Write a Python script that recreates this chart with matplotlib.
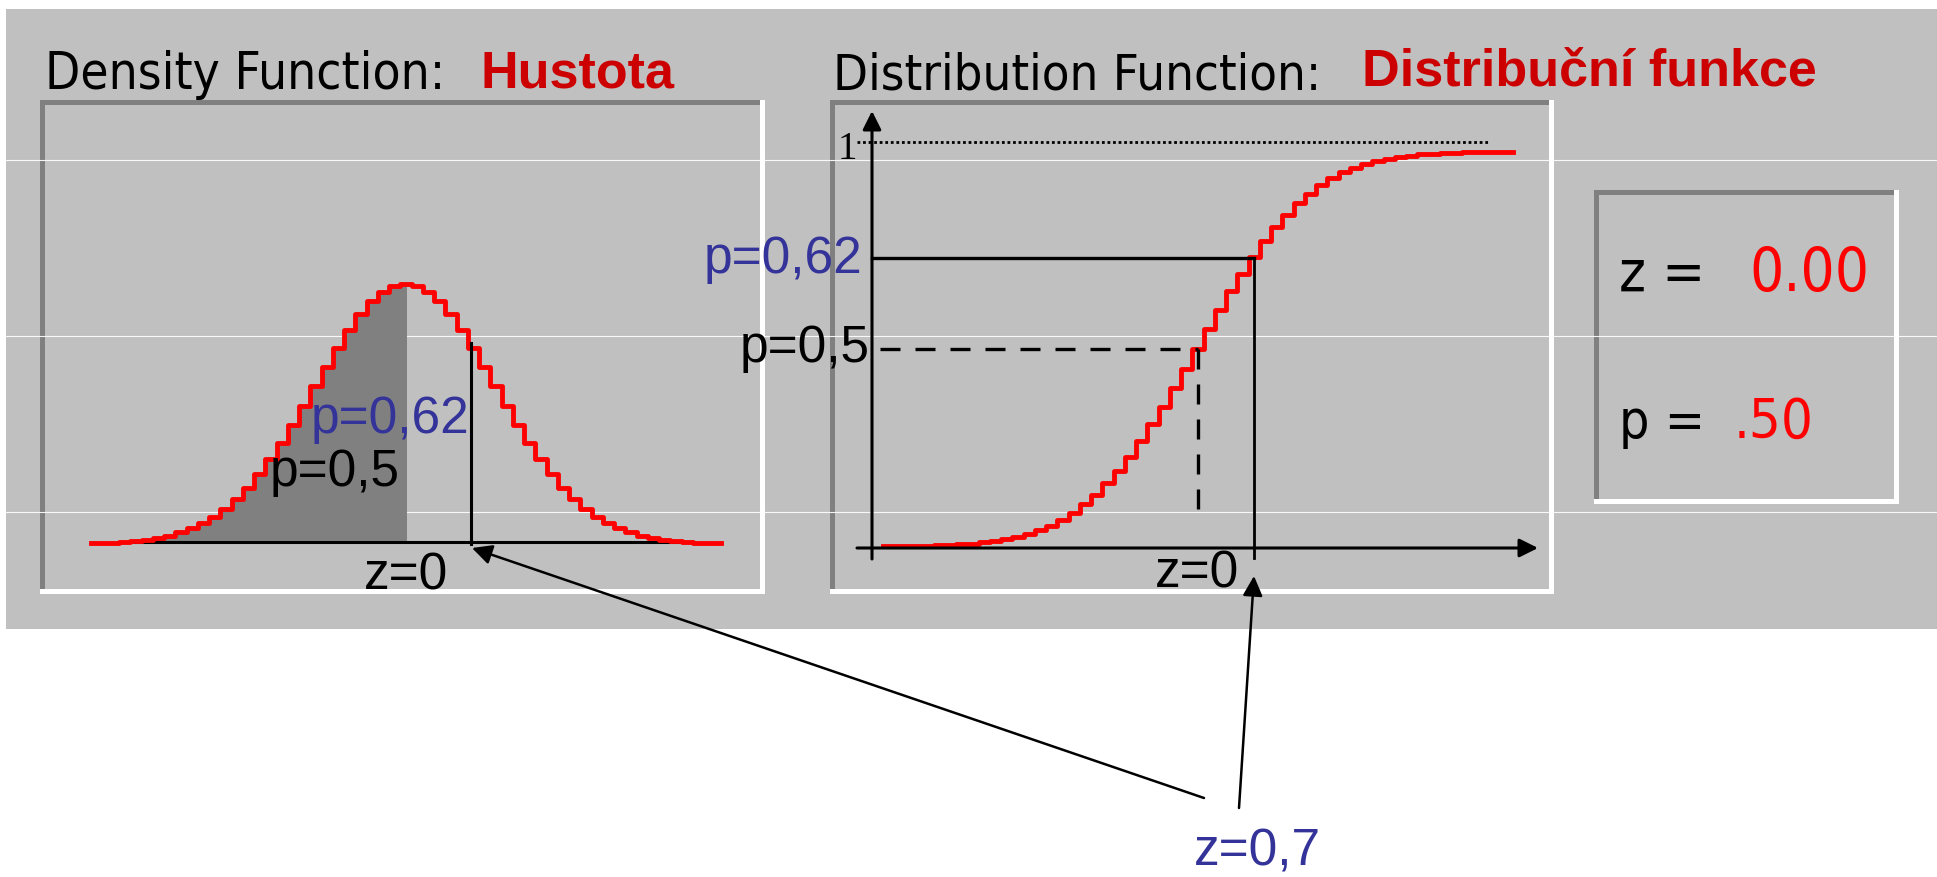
import numpy as np
import matplotlib.pyplot as plt
from matplotlib.patches import Rectangle

# values
z_grid = [-3.5, -3.375, -3.25, -3.125, -3.0, -2.875, -2.75, -2.625, -2.5, -2.375,
          -2.25, -2.125, -2.0, -1.875, -1.75, -1.625, -1.5, -1.375, -1.25, -1.125,
          -1.0, -0.875, -0.75, -0.625, -0.5, -0.375, -0.25, -0.125, 0.0,
          0.125, 0.25, 0.375, 0.5, 0.625, 0.75, 0.875, 1.0, 1.125, 1.25,
          1.375, 1.5, 1.625, 1.75, 1.875, 2.0, 2.125, 2.25, 2.375, 2.5,
          2.625, 2.75, 2.875, 3.0, 3.125, 3.25, 3.375, 3.5]
density = [0.001, 0.001, 0.002, 0.003, 0.004, 0.006, 0.009, 0.013, 0.018, 0.024,
           0.032, 0.042, 0.054, 0.069, 0.086, 0.107, 0.130, 0.155, 0.183, 0.212,
           0.242, 0.272, 0.301, 0.328, 0.352, 0.372, 0.387, 0.396, 0.399,
           0.396, 0.387, 0.372, 0.352, 0.328, 0.301, 0.272, 0.242, 0.212, 0.183,
           0.155, 0.130, 0.107, 0.086, 0.069, 0.054, 0.042, 0.032, 0.024, 0.018,
           0.013, 0.009, 0.006, 0.004, 0.003, 0.002, 0.001, 0.001]
cdf = [0.000, 0.000, 0.001, 0.001, 0.001, 0.002, 0.003, 0.004, 0.006, 0.009,
       0.012, 0.017, 0.023, 0.030, 0.040, 0.052, 0.067, 0.085, 0.106, 0.130,
       0.159, 0.191, 0.227, 0.266, 0.309, 0.354, 0.401, 0.450, 0.500,
       0.550, 0.599, 0.646, 0.691, 0.734, 0.773, 0.809, 0.841, 0.870, 0.894,
       0.915, 0.933, 0.948, 0.960, 0.970, 0.977, 0.983, 0.988, 0.991, 0.994,
       0.996, 0.997, 0.998, 0.999, 0.999, 0.999, 1.000, 1.000]

pdf_mark_z = 0.72      # vertical line in the density panel
pdf_mark_h = 0.308
cdf_mark_z = 0.62      # solid lines in the distribution panel
cdf_mark_p = 0.73
half_p = 0.5

W, H = 1937, 877
GRAY = '#C0C0C0'
DARK = '#808080'
BLUE = '#333399'
ARIAL = ['Liberation Sans', 'DejaVu Sans']

fig = plt.figure(figsize=(W / 100, H / 100), dpi=100)

# background axes in pixel units (y down)
bg = fig.add_axes([0, 0, 1, 1])
bg.set_xlim(0, W)
bg.set_ylim(H, 0)
bg.axis('off')
bg.add_patch(Rectangle((6, 9), W - 6, 620, color=GRAY, lw=0, zorder=0))


def sunken_box(x0, y0, x1, y1, t=5):
    bg.add_patch(Rectangle((x0, y0), x1 - x0 - t, t, color=DARK, lw=0, zorder=2))
    bg.add_patch(Rectangle((x0, y0), t, y1 - y0 - t, color=DARK, lw=0, zorder=2))
    bg.add_patch(Rectangle((x1 - t, y0), t, y1 - y0, color='white', lw=0, zorder=2))
    bg.add_patch(Rectangle((x0, y1 - t), x1 - x0, t, color='white', lw=0, zorder=2))


sunken_box(40, 100, 765, 594)
sunken_box(830, 100, 1554, 594)
sunken_box(1594, 190, 1899, 504)

for yy in [160, 336, 512]:
    bg.plot([6, W], [yy, yy], color='white', lw=0.8, alpha=0.9, zorder=3)

# narrow "screen font" texts: condensed DejaVu if present, squeezed to width
narrow = []


def screen_text(x, y, s, width, **kw):
    t = bg.text(x, y, s, family='DejaVu Sans', fontstretch='condensed',
                va='baseline', zorder=5, **kw)
    narrow.append((t, width))
    return t


screen_text(45, 89, 'Density Function:', 401, fontsize=43)
screen_text(833, 89, 'Distribution Function:', 488, fontsize=43)
screen_text(1619, 291, 'z =', 86, fontsize=50)
screen_text(1749, 291, '0.00', 120, fontsize=50, color='#FF0000')
screen_text(1619, 438, 'p =', 86, fontsize=50)
screen_text(1734, 438, '.50', 80, fontsize=50, color='#FF0000')

bg.text(480, 87, 'Hustota', family=ARIAL, fontsize=37.5, fontweight='bold',
        color='#CC0000', va='baseline', zorder=5)
bg.text(1362, 85, 'Distribuční funkce', family=ARIAL, fontsize=37.5, fontweight='bold',
        color='#CC0000', va='baseline', zorder=5)

# density panel: z=0 at x=406px, 90 px per unit z; density 0 at y=544px, 652 px per unit
pdf_ax = fig.add_axes([0, 0, 1, 1])
pdf_ax.set_xlim(-406 / 90, (W - 406) / 90)
pdf_ax.set_ylim((544 - H) / 652, 544 / 652)
pdf_ax.patch.set_alpha(0)
pdf_ax.axis('off')

z_arr = np.array(z_grid)
shade = pdf_ax.fill_between(z_arr, density, 0, step='mid', color=DARK, lw=0, zorder=1)
clip = Rectangle((-5, -0.01), 5, 1, transform=pdf_ax.transData)
shade.set_clip_path(clip)
pdf_ax.plot([-3.16, 3.13], [0.003, 0.003], color='black', lw=2.2, zorder=2)
pdf_ax.plot(z_arr, density, drawstyle='steps-mid', color='#FF0000', lw=3.5, zorder=3)
pdf_ax.plot([pdf_mark_z, pdf_mark_z], [0, pdf_mark_h], color='black', lw=2.2, zorder=4)

# distribution panel: z=0 at x=1198px; p=0 at y=546px, 394 px per unit
cdf_ax = fig.add_axes([0, 0, 1, 1])
cdf_ax.set_xlim(-1198 / 90, (W - 1198) / 90)
cdf_ax.set_ylim((546 - H) / 394, 546 / 394)
cdf_ax.patch.set_alpha(0)
cdf_ax.axis('off')

cdf_ax.plot([-3.79, 3.23], [1.025, 1.025], color='black', lw=2.0,
            linestyle=(0, (1, 1)), zorder=2)
cdf_ax.plot(z_arr, cdf, drawstyle='steps-mid', color='#FF0000', lw=3.5, zorder=3)
cdf_ax.plot([-3.62, cdf_mark_z], [cdf_mark_p, cdf_mark_p], color='black', lw=2.4, zorder=4)
cdf_ax.plot([cdf_mark_z, cdf_mark_z], [cdf_mark_p, -0.03], color='black', lw=2.0, zorder=4)
cdf_ax.plot([-3.53, 0], [half_p, half_p], color='black', lw=2.4,
            linestyle=(0, (6, 4.5)), zorder=4)
cdf_ax.plot([0, 0], [half_p, 0.058], color='black', lw=2.4,
            linestyle=(0, (6, 4.5)), zorder=4)

# axis arrows of the distribution panel
arr = dict(arrowstyle='-|>', mutation_scale=28, lw=2.2, color='black',
           shrinkA=0, shrinkB=0)
cdf_ax.annotate('', xy=(872, 111), xytext=(872, 559), xycoords=bg.transData,
                textcoords=bg.transData, arrowprops=arr, zorder=5)
cdf_ax.annotate('', xy=(1538, 548), xytext=(857, 548), xycoords=bg.transData,
                textcoords=bg.transData, arrowprops=arr, zorder=5)
cdf_ax.text(847, 159, '1', family=['Liberation Serif', 'DejaVu Serif'], fontsize=28,
            ha='center', va='baseline', transform=bg.transData)

# labels
lab = dict(family=ARIAL, fontsize=37, va='baseline', transform=bg.transData, zorder=6)
cdf_ax.text(469, 433, 'p=0,62', color=BLUE, ha='right', **lab)
cdf_ax.text(270, 486, 'p=0,5', color='black', ha='left', **lab)
cdf_ax.text(448, 589, 'z=0', color='black', ha='right', **lab)
cdf_ax.text(862, 273, 'p=0,62', color=BLUE, ha='right', **lab)
cdf_ax.text(870, 362, 'p=0,5', color='black', ha='right', **lab)
cdf_ax.text(1155, 588, 'z=0', color='black', ha='left', **lab)
cdf_ax.text(1194, 866, 'z=0,7', color=BLUE, ha='left', **lab)

# pointers from z=0,7
ptr = dict(arrowstyle='-|>', mutation_scale=30, lw=1.8, color='black',
           shrinkA=0, shrinkB=0)
cdf_ax.annotate('', xy=(472, 548), xytext=(1204, 798), xycoords=bg.transData,
                textcoords=bg.transData, arrowprops=ptr, zorder=6)
cdf_ax.annotate('', xy=(1254, 576), xytext=(1239, 808), xycoords=bg.transData,
                textcoords=bg.transData, arrowprops=ptr, zorder=6)

# squeeze the screen-font texts to the widths seen in the picture
fig.canvas.draw()
rend = fig.canvas.get_renderer()
for t, width in narrow:
    w = t.get_window_extent(rend).width
    if w > width:
        t.set_fontsize(t.get_fontsize() * width / w)

fig.savefig('out.png', dpi=100, facecolor='white')
